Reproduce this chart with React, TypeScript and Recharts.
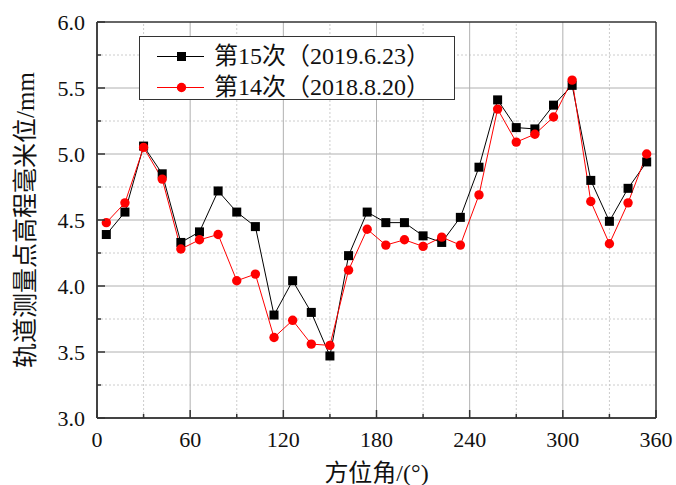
import React from 'react';
import { LineChart, Line, XAxis, YAxis, ReferenceLine, Legend, Label } from 'recharts';

const angles = [6, 18, 30, 42, 54, 66, 78, 90, 102, 114, 126, 138, 150, 162, 174, 186, 198, 210, 222, 234, 246, 258, 270, 282, 294, 306, 318, 330, 342, 354];
const survey15 = [4.39, 4.56, 5.06, 4.85, 4.33, 4.41, 4.72, 4.56, 4.45, 3.78, 4.04, 3.80, 3.47, 4.23, 4.56, 4.48, 4.48, 4.38, 4.33, 4.52, 4.90, 5.41, 5.20, 5.19, 5.37, 5.52, 4.80, 4.49, 4.74, 4.94];
const survey14 = [4.48, 4.63, 5.05, 4.81, 4.28, 4.35, 4.39, 4.04, 4.09, 3.61, 3.74, 3.56, 3.55, 4.12, 4.43, 4.31, 4.35, 4.30, 4.37, 4.31, 4.69, 5.34, 5.09, 5.15, 5.28, 5.56, 4.64, 4.32, 4.63, 5.00];

const xTicks = [0, 30, 60, 90, 120, 150, 180, 210, 240, 270, 300, 330, 360];
const yTicks = [3.0, 3.25, 3.5, 3.75, 4.0, 4.25, 4.5, 4.75, 5.0, 5.25, 5.5, 5.75, 6.0];
const xMajorGrid = [60, 120, 180, 240, 300];
const xMinorGrid = [30, 90, 150, 210, 270, 330];
const yMajorGrid = [3.5, 4.0, 4.5, 5.0, 5.5];
const yMinorGrid = [3.25, 3.75, 4.25, 4.75, 5.25, 5.75];

const name15 = '第15次（2019.6.23）';
const name14 = '第14次（2018.8.20）';
const xTitle = '方位角/(°)';
const yTitle = '轨道测量点高程毫米位/mm';

const data = angles.map((a, i) => ({ angle: a, s15: survey15[i], s14: survey14[i] }));

const FONT = '"Liberation Serif", "Times New Roman", Times, serif, "Noto Sans CJK SC"';
const X_MARGIN = 13;
const Y_MARGIN = 12;

const XTick = (props: any) => {
  const { x, y, payload } = props;
  const v = payload.value;
  const major = v % 60 === 0;
  const base = y - X_MARGIN;
  return (
    <g>
      <line x1={x} x2={x} y1={base} y2={base - (major ? 8 : 4)} stroke="#333" strokeWidth={1.5} />
      {major && (
        <text x={x} y={y} dy="0.71em" textAnchor="middle" style={{ fontSize: 22, fontFamily: FONT }} fill="#111">
          {v}
        </text>
      )}
    </g>
  );
};

const YTick = (props: any) => {
  const { x, y, payload } = props;
  const v = payload.value;
  const major = Math.abs(v * 2 - Math.round(v * 2)) < 1e-6;
  const base = x + Y_MARGIN;
  return (
    <g>
      <line x1={base} x2={base + (major ? 8 : 4)} y1={y} y2={y} stroke="#333" strokeWidth={1.5} />
      {major && (
        <text x={x} y={y} dy="0.355em" textAnchor="end" style={{ fontSize: 22, fontFamily: FONT }} fill="#111">
          {v.toFixed(1)}
        </text>
      )}
    </g>
  );
};

const SquareDot = (p: any) => {
  if (p.cx == null || p.cy == null) return <g key={p.index} />;
  return <rect key={p.index} x={p.cx - 4.5} y={p.cy - 4.5} width={9} height={9} fill="#000" />;
};

const LegendBox = () => {
  const rows = [
    { name: name15, color: '#000', shape: 'square' },
    { name: name14, color: '#ff0000', shape: 'circle' },
  ];
  return (
    <div
      style={{
        width: 316,
        height: 64,
        border: '1px solid #333',
        background: '#fff',
        boxSizing: 'border-box',
        paddingTop: 4,
      }}
    >
      {rows.map((r) => (
        <div key={r.name} style={{ height: 31, display: 'flex', alignItems: 'center' }}>
          <svg width={74} height={31} style={{ flex: 'none' }}>
            <line x1={17} x2={64} y1={15.5} y2={15.5} stroke={r.color} strokeWidth={1} />
            {r.shape === 'square' ? (
              <rect x={37} y={11} width={9} height={9} fill={r.color} />
            ) : (
              <circle cx={41.5} cy={15.5} r={4.7} fill={r.color} />
            )}
          </svg>
          <span style={{ fontFamily: FONT, fontSize: 24, color: '#111', whiteSpace: 'nowrap', lineHeight: '31px' }}>
            {r.name}
          </span>
        </div>
      ))}
    </div>
  );
};

export default function App() {
  return (
    <div style={{ position: 'absolute', left: 0, top: 0, width: 676, height: 485, background: '#fff' }}>
      <LineChart width={676} height={485} data={data} margin={{ top: 22, right: 20, bottom: 0, left: 0 }}>
        {xMinorGrid.map((v) => (
          <ReferenceLine key={'xm' + v} x={v} stroke="#cccccc" strokeDasharray="2 2" strokeWidth={1} />
        ))}
        {yMinorGrid.map((v) => (
          <ReferenceLine key={'ym' + v} y={v} stroke="#cccccc" strokeDasharray="2 2" strokeWidth={1} />
        ))}
        {xMajorGrid.map((v) => (
          <ReferenceLine key={'xM' + v} x={v} stroke="#b0b0b0" strokeWidth={1} />
        ))}
        {yMajorGrid.map((v) => (
          <ReferenceLine key={'yM' + v} y={v} stroke="#b0b0b0" strokeWidth={1} />
        ))}
        <ReferenceLine y={6} stroke="#333" strokeWidth={1.5} />
        <ReferenceLine x={360} stroke="#333" strokeWidth={1.5} />
        <XAxis
          dataKey="angle"
          type="number"
          domain={[0, 360]}
          ticks={xTicks}
          interval={0}
          tickSize={0}
          tickMargin={X_MARGIN}
          tickLine={false}
          tick={<XTick />}
          axisLine={{ stroke: '#444', strokeWidth: 2 }}
          height={67}
        >
          <Label value={xTitle} position="insideBottom" offset={4} style={{ fontFamily: FONT, fontSize: 24, fill: '#111' }} />
        </XAxis>
        <YAxis
          type="number"
          domain={[3, 6]}
          ticks={yTicks}
          interval={0}
          tickSize={0}
          tickMargin={Y_MARGIN}
          tickLine={false}
          tick={<YTick />}
          axisLine={{ stroke: '#444', strokeWidth: 2 }}
          width={97}
        >
          <Label
            value={yTitle}
            angle={-90}
            position="insideLeft"
            offset={25}
            style={{ textAnchor: 'middle', fontFamily: FONT, fontSize: 25, fill: '#111' }}
          />
        </YAxis>
        <Legend
          layout="horizontal"
          verticalAlign="middle"
          align="center"
          content={<LegendBox />}
          wrapperStyle={{ position: 'absolute', left: 139, top: 36, width: 316, height: 64 }}
        />
        <Line
          dataKey="s15"
          name={name15}
          stroke="#000"
          strokeWidth={1}
          dot={SquareDot}
          activeDot={false}
          isAnimationActive={false}
        />
        <Line
          dataKey="s14"
          name={name14}
          stroke="#ff0000"
          strokeWidth={1}
          dot={{ r: 4.7, fill: '#ff0000', stroke: '#ff0000', strokeWidth: 0 }}
          activeDot={false}
          isAnimationActive={false}
        />
      </LineChart>
    </div>
  );
}
